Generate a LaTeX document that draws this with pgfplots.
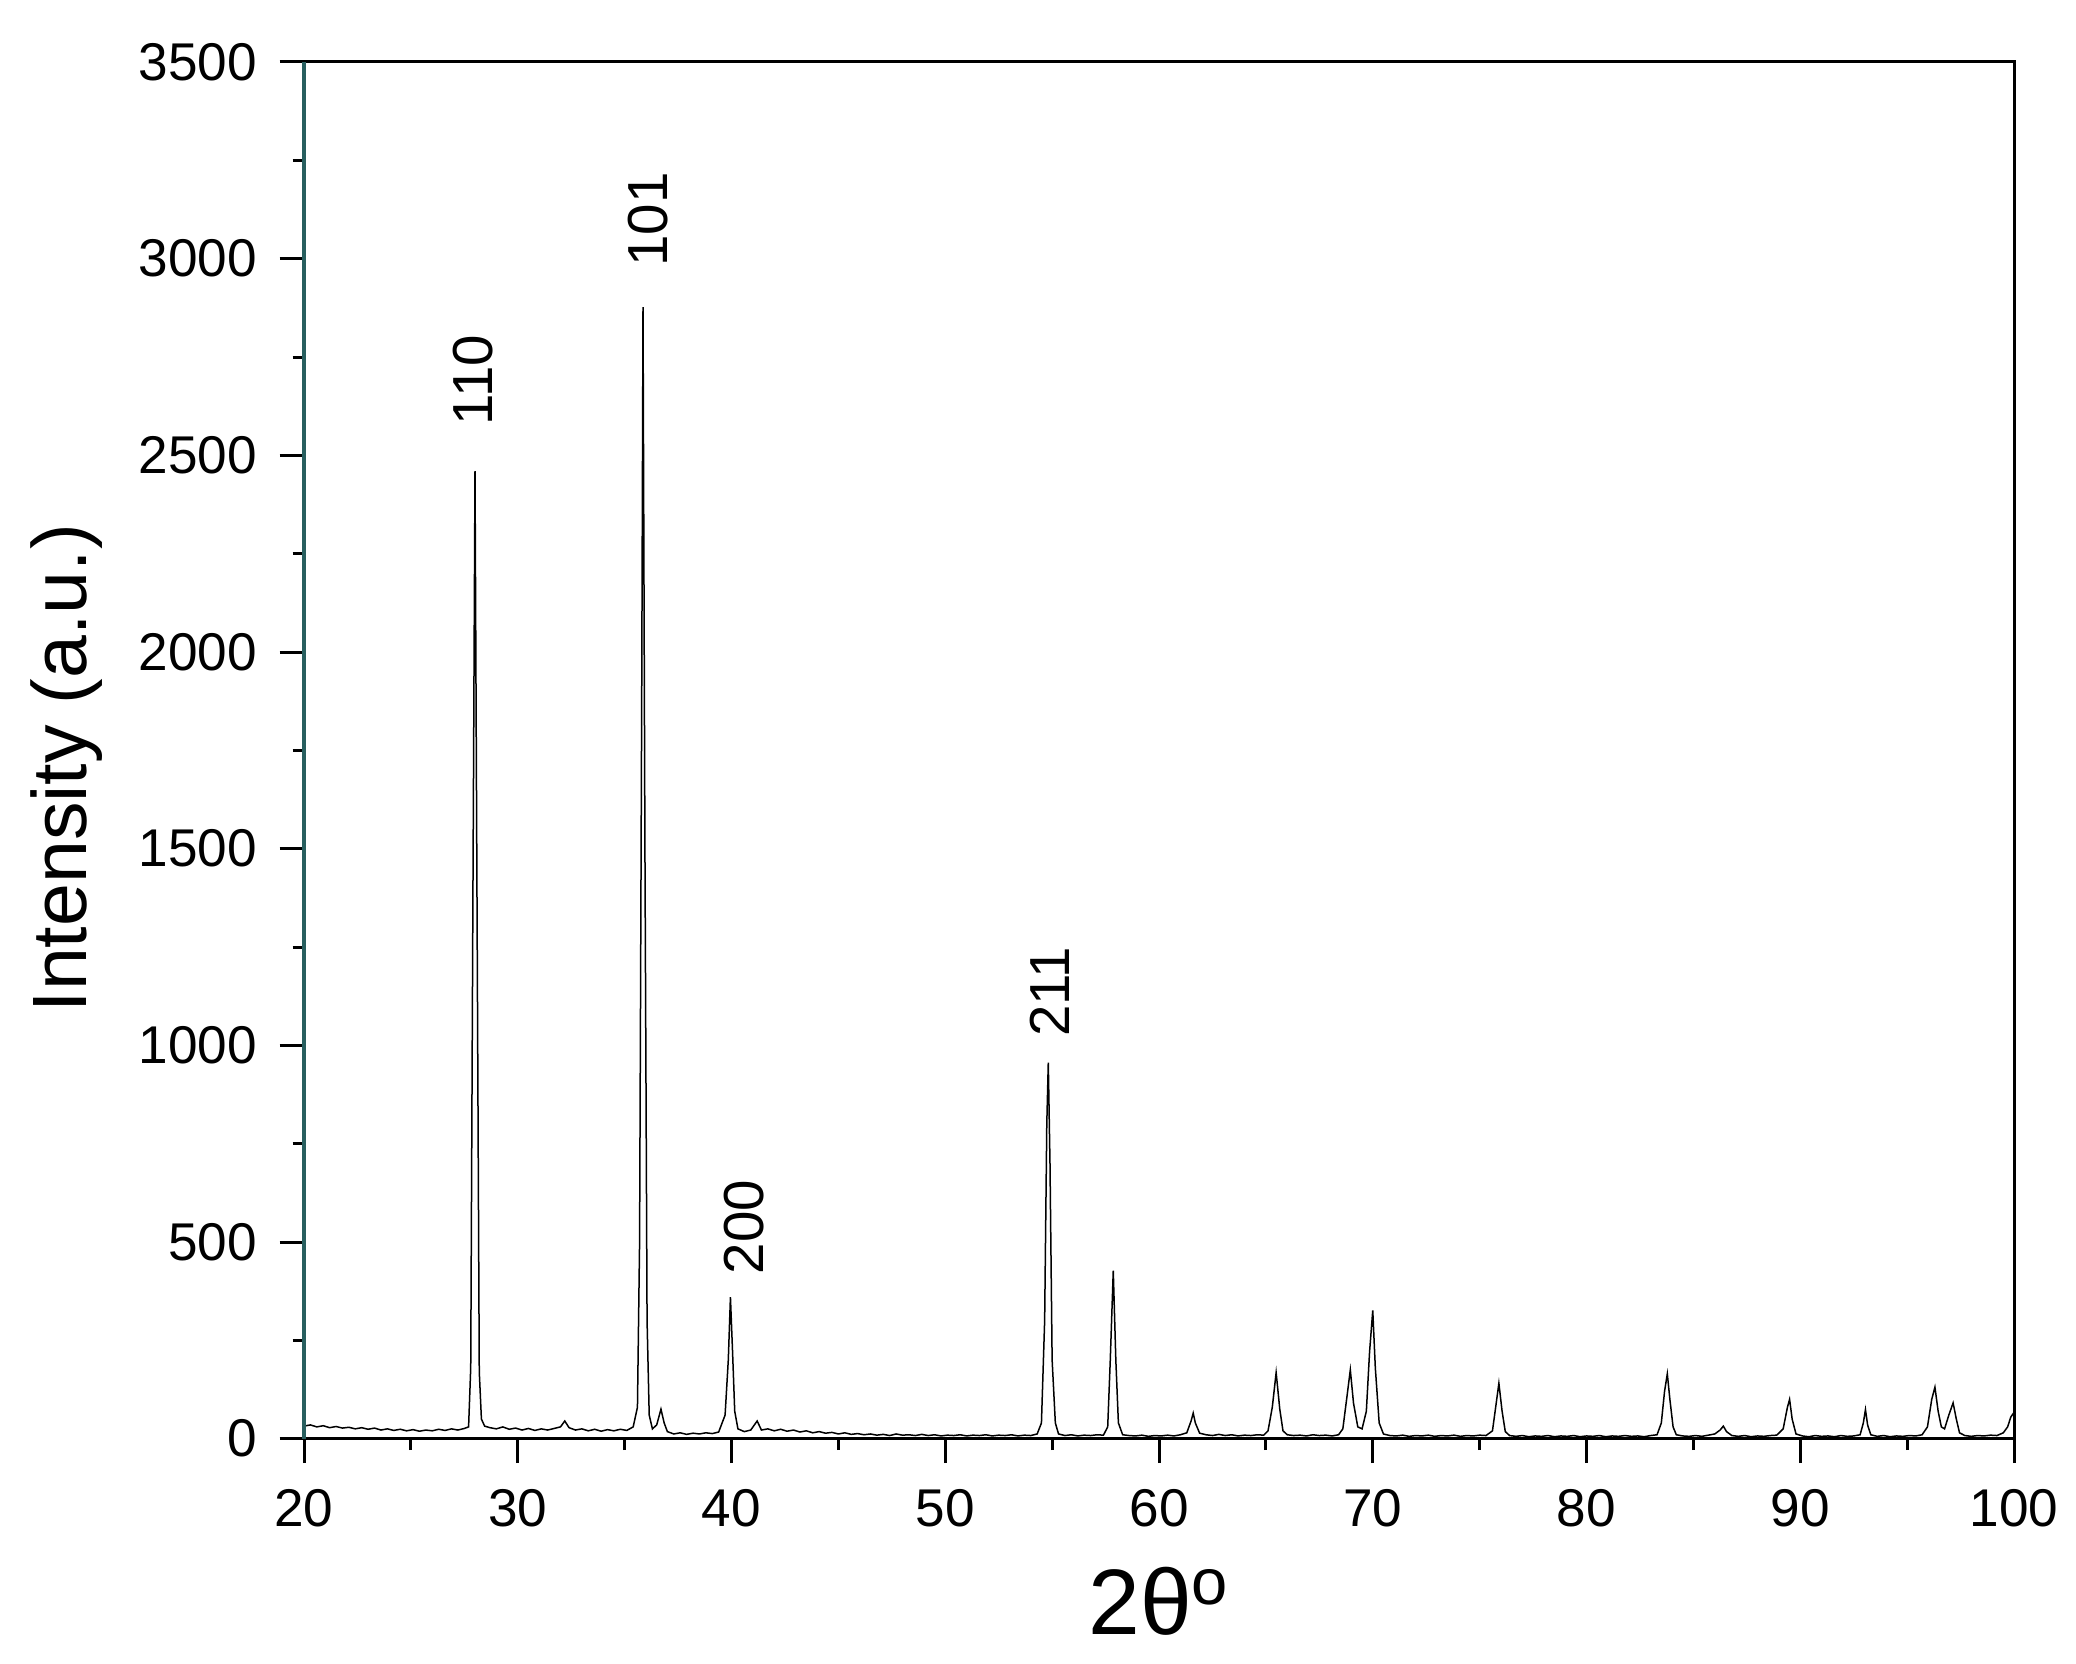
\documentclass[border=0pt]{standalone}
\usepackage{fontspec}
\setmainfont{Liberation Sans}
\usepackage{pgfplots}
\pgfplotsset{compat=1.18}
\usetikzlibrary{calc}
\definecolor{spine}{RGB}{40,95,95}
\begin{document}
\begin{tikzpicture}
\begin{axis}[
  scale only axis, width=513bp, height=413bp,
  xmin=20, xmax=100, ymin=0, ymax=3500,
  xtick distance=10, ytick distance=500, minor tick num=1,
  tick align=outside, xtick pos=bottom, ytick pos=left,
  major tick length=7.3bp, minor tick length=3.4bp,
  every tick/.style={black, line width=0.9bp},
  axis line style={black, line width=0.9bp},
  /pgf/number format/assume math mode=true,
  /pgf/number format/1000 sep={},
  ticklabel style={font=\fontsize{16}{16}\selectfont},
  yticklabel style={inner sep=1pt, xshift=-5.6bp},
  xticklabel style={inner sep=1pt, yshift=-6.8bp},
  xlabel={2θ\textsuperscript{o}},
  ylabel={Intensity (a.u.)},
  xlabel style={font=\fontsize{28}{28}\selectfont, at={(axis description cs:0.5,-0.142)}, anchor=base},
  ylabel style={font=\fontsize{23.2}{23.2}\selectfont, at={(axis description cs:-0.139,0.487)}, anchor=center},
  clip=false,
]
\addplot[black, line width=0.45bp] coordinates {
(20.0,32)(20.3,35)(20.6,30)(20.9,33)(21.2,28)(21.5,31)(21.8,27)(22.1,29)(22.4,25)(22.7,28)
(23.0,24)(23.3,27)(23.6,22)(23.9,25)(24.2,21)(24.5,24)(24.8,20)(25.1,23)(25.4,19)(25.7,22)
(26.0,20)(26.3,24)(26.6,21)(26.9,25)(27.2,22)(27.5,26)(27.7,30)
(27.8,180)(27.9,1350)(28.0,2460)(28.1,1300)(28.2,170)(28.3,50)(28.45,32)
(28.7,28)(29.0,25)(29.3,30)(29.6,24)(29.9,27)(30.2,22)(30.5,26)(30.8,21)(31.1,25)(31.4,22)
(31.7,26)(32.0,30)(32.2,45)(32.4,28)(32.7,22)(33.0,25)(33.3,20)(33.6,24)(33.9,19)(34.2,23)
(34.5,20)(34.8,24)(35.1,21)(35.4,30)(35.6,80)(35.7,500)(35.8,1900)(35.86,2877)(35.95,1500)
(36.05,300)(36.15,60)(36.3,25)(36.5,35)(36.7,75)(36.85,40)(37.0,18)(37.3,12)(37.6,15)
(37.9,11)(38.2,14)(38.5,12)(38.8,15)(39.1,13)(39.4,17)(39.7,60)(39.85,200)(39.95,360)
(40.05,220)(40.15,70)(40.3,25)(40.6,18)(40.9,22)(41.2,45)(41.4,22)(41.7,25)(42.0,20)
(42.3,24)(42.6,19)(42.9,22)(43.2,17)(43.5,20)(43.8,15)(44.1,18)(44.4,14)(44.7,16)(45.0,12)
(45.3,15)(45.6,11)(45.9,13)(46.2,10)(46.5,12)(46.8,9)(47.1,11)(47.4,8)(47.7,12)(48.0,9)
(48.3,10)(48.6,8)(48.9,11)(49.2,8)(49.5,10)(49.8,7)(50.1,9)(50.4,8)(50.7,10)(51.0,7)
(51.3,9)(51.6,8)(51.9,10)(52.2,7)(52.5,9)(52.8,8)(53.1,10)(53.4,7)(53.7,9)(54.0,8)
(54.3,12)(54.5,40)(54.65,300)(54.75,800)(54.82,956)(54.9,700)(55.0,200)(55.15,40)(55.3,12)
(55.6,8)(55.9,10)(56.2,7)(56.5,9)(56.8,8)(57.1,10)(57.4,9)(57.6,30)(57.72,200)(57.86,427)
(57.98,200)(58.1,40)(58.3,10)(58.6,8)(58.9,7)(59.2,9)(59.5,6)(59.8,8)(60.1,7)(60.4,9)
(60.7,7)(61.0,10)(61.3,15)(61.5,45)(61.6,65)(61.7,40)(61.9,14)(62.2,10)(62.5,8)(62.8,11)
(63.1,8)(63.4,10)(63.7,7)(64.0,9)(64.3,8)(64.6,10)(64.9,9)(65.1,20)(65.3,80)(65.48,168)
(65.65,75)(65.8,20)(66.0,10)(66.3,8)(66.6,9)(66.9,7)(67.2,10)(67.5,8)(67.8,9)(68.1,7)
(68.4,10)(68.6,25)(68.8,110)(68.95,175)(69.1,90)(69.3,30)(69.5,25)(69.7,70)(69.85,220)
(70.0,326)(70.12,180)(70.3,40)(70.5,12)(70.8,8)(71.1,7)(71.4,9)(71.7,6)(72.0,8)(72.3,7)
(72.6,9)(72.9,6)(73.2,8)(73.5,7)(73.8,9)(74.1,6)(74.4,8)(74.7,7)(75.0,9)(75.3,8)(75.6,20)
(75.75,80)(75.9,141)(76.05,70)(76.2,18)(76.4,8)(76.7,6)(77.0,8)(77.3,5)(77.6,7)(77.9,6)
(78.2,8)(78.5,5)(78.8,7)(79.1,6)(79.4,8)(79.7,5)(80.0,7)(80.3,6)(80.6,8)(80.9,5)(81.2,7)
(81.5,6)(81.8,8)(82.1,6)(82.4,7)(82.7,5)(83.0,8)(83.3,10)(83.5,40)(83.65,120)(83.78,165)
(83.9,100)(84.05,30)(84.2,10)(84.5,7)(84.8,6)(85.1,8)(85.4,6)(85.7,9)(86.0,12)(86.25,22)
(86.4,32)(86.55,18)(86.8,8)(87.1,6)(87.4,8)(87.7,5)(88.0,7)(88.3,6)(88.6,8)(88.9,9)
(89.2,25)(89.4,80)(89.5,100)(89.62,50)(89.8,12)(90.1,7)(90.4,5)(90.7,8)(91.0,6)(91.3,7)
(91.6,5)(91.9,8)(92.2,6)(92.5,7)(92.8,10)(92.95,40)(93.05,74)(93.15,35)(93.3,10)(93.6,6)
(93.9,8)(94.2,5)(94.5,7)(94.8,6)(95.1,8)(95.4,7)(95.7,10)(95.95,30)(96.15,100)(96.3,131)
(96.45,70)(96.6,30)(96.75,25)(96.95,60)(97.15,91)(97.3,50)(97.45,15)(97.7,8)(98.0,6)
(98.3,8)(98.6,7)(98.9,9)(99.2,8)(99.5,15)(99.7,30)(99.85,55)(100.0,67)
};
\draw[spine, line width=1bp] (rel axis cs:0,0) -- (rel axis cs:0,1);
\begin{scope}[every node/.style={font=\fontsize{17}{17}\selectfont, rotate=90, anchor=west, inner sep=0pt}]
\node at (axis cs:27.9,2575) {110};
\node at (axis cs:36.1,2978) {101};
\node at (axis cs:40.6,417) {200};
\node at (axis cs:54.9,1020) {211};
\end{scope}
\end{axis}
\pgfresetboundingbox
\path[use as bounding box] ($(current axis.south west)+(-91.2bp,-67.5bp)$) rectangle ($(current axis.north east)+(18.6bp,18.6bp)$);
\end{tikzpicture}
\end{document}
